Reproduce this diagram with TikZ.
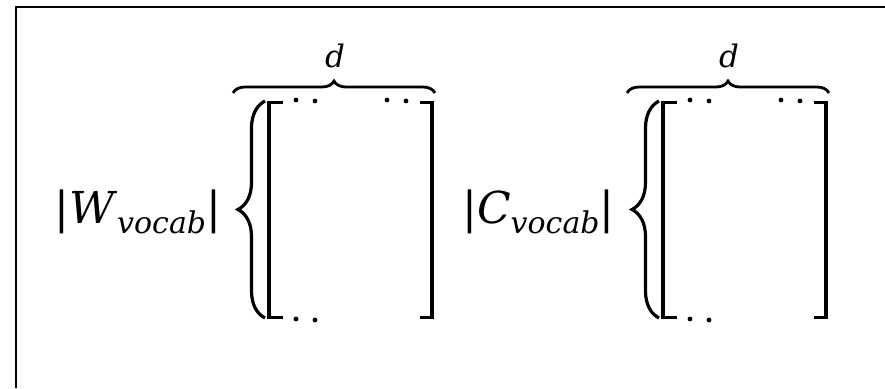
\documentclass[tikz,border=0pt]{standalone}
\usepackage{fontspec}
\setmainfont{DejaVu Serif}
\usetikzlibrary{decorations.pathreplacing}
\begin{document}
\begin{tikzpicture}[x=1pt,y=-1pt,
  frameline/.style={line width=2.4pt},
  bigtxt/.style={font=\fontsize{44}{50}\selectfont, inner sep=0pt, anchor=base west},
  dtxt/.style={font=\fontsize{31}{34}\selectfont\itshape, inner sep=0pt, anchor=base},
  topbrace/.style={decorate, decoration={brace, amplitude=12pt}, line width=2.8pt},
  sidebrace/.style={decorate, decoration={brace, amplitude=27pt, aspect=0.5}, line width=3.2pt},
  bracketv/.style={line width=3.6pt, line cap=butt},
  bracketh/.style={line width=2.6pt, line cap=butt},
  dotmark/.style={fill=black}
]
\useasboundingbox (0,0) rectangle (885,388);
% frame (cropped)
\draw[frameline] (16,388) -- (16,7) -- (885,7);

\newcommand{\subtxt}[1]{\raisebox{-10pt}{\fontsize{30}{32}\selectfont\textit{#1}}}

% labels
\node[bigtxt] (wlab) at (54,223) {|\textit{W}\subtxt{vocab}|};
\node[bigtxt] (clab) at (462,223) {|\textit{C}\subtxt{vocab}|};

\foreach \o/\nm in {0/a,394/b}{
  \begin{scope}[xshift=\o pt]
    \node[dtxt] (d\nm) at (335,67) {d};
    \draw[topbrace] (233,93) -- (435,93);
    \draw[sidebrace] (265,318) -- (265,101);
    \draw[bracketv] (269,101) -- (269,319);
    \draw[bracketh] (267.2,102.3) -- (283,102.3) (267.2,317.7) -- (283,317.7);
    \draw[bracketv] (432,101) -- (432,319);
    \draw[bracketh] (420,102.3) -- (433.8,102.3) (420,317.7) -- (433.8,317.7);
    \fill[dotmark] (296,100) circle (2.4pt) (315,101) circle (2.4pt)
                   (387,100) circle (2.4pt) (406,101) circle (2.4pt)
                   (296,319) circle (2.4pt) (315,320) circle (2.4pt);
  \end{scope}
}
\end{tikzpicture}
\end{document}
